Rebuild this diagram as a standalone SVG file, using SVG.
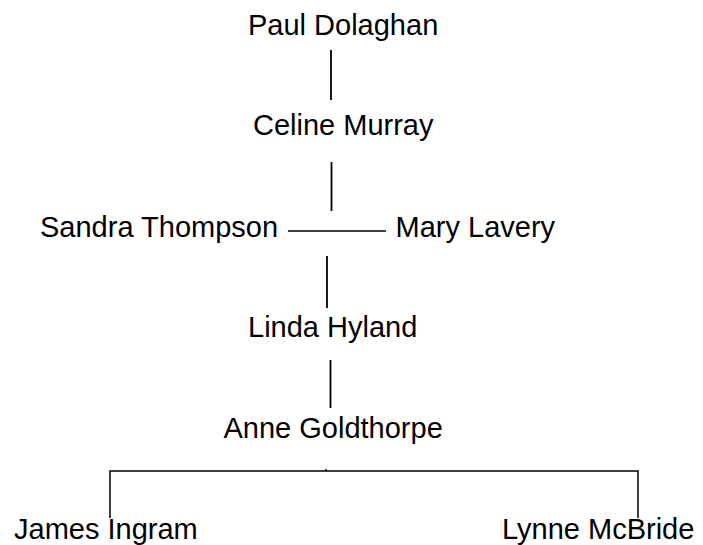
<svg xmlns="http://www.w3.org/2000/svg" width="703" height="545" viewBox="0 0 703 545">
<style>
.n{font-family:"Liberation Sans",Arial,sans-serif;font-size:29px;fill:#000}
.c{stroke:#000;stroke-width:1.8;fill:none}
.b{stroke:#000;stroke-width:1.5;fill:none}
</style>
<rect width="703" height="545" fill="#fff"/>
<g id="connectors">
<line class="c" x1="331" y1="50" x2="331" y2="100"/>
<line class="c" x1="331.5" y1="162" x2="331.5" y2="211"/>
<line class="b" x1="288" y1="231" x2="386" y2="231"/>
<line class="c" x1="327" y1="256" x2="327" y2="308"/>
<line class="c" x1="330.5" y1="360" x2="330.5" y2="408"/>
<polyline class="b" points="110,518 110,471 638,471 638,518"/>
<line class="b" x1="326" y1="469" x2="326" y2="471"/>
</g>
<g id="paul"><text class="n" x="248" y="35">Paul Dolaghan</text></g>
<g id="celine"><text class="n" x="253" y="135">Celine Murray</text></g>
<g id="sandra"><text class="n" x="40" y="237">Sandra Thompson</text></g>
<g id="mary"><text class="n" x="395.5" y="237">Mary Lavery</text></g>
<g id="linda"><text class="n" x="248" y="336.5">Linda Hyland</text></g>
<g id="anne"><text class="n" x="223.5" y="437.5">Anne Goldthorpe</text></g>
<g id="james"><text class="n" x="14" y="538.5">James Ingram</text></g>
<g id="lynne"><text class="n" x="502" y="538.5">Lynne McBride</text></g>
</svg>
